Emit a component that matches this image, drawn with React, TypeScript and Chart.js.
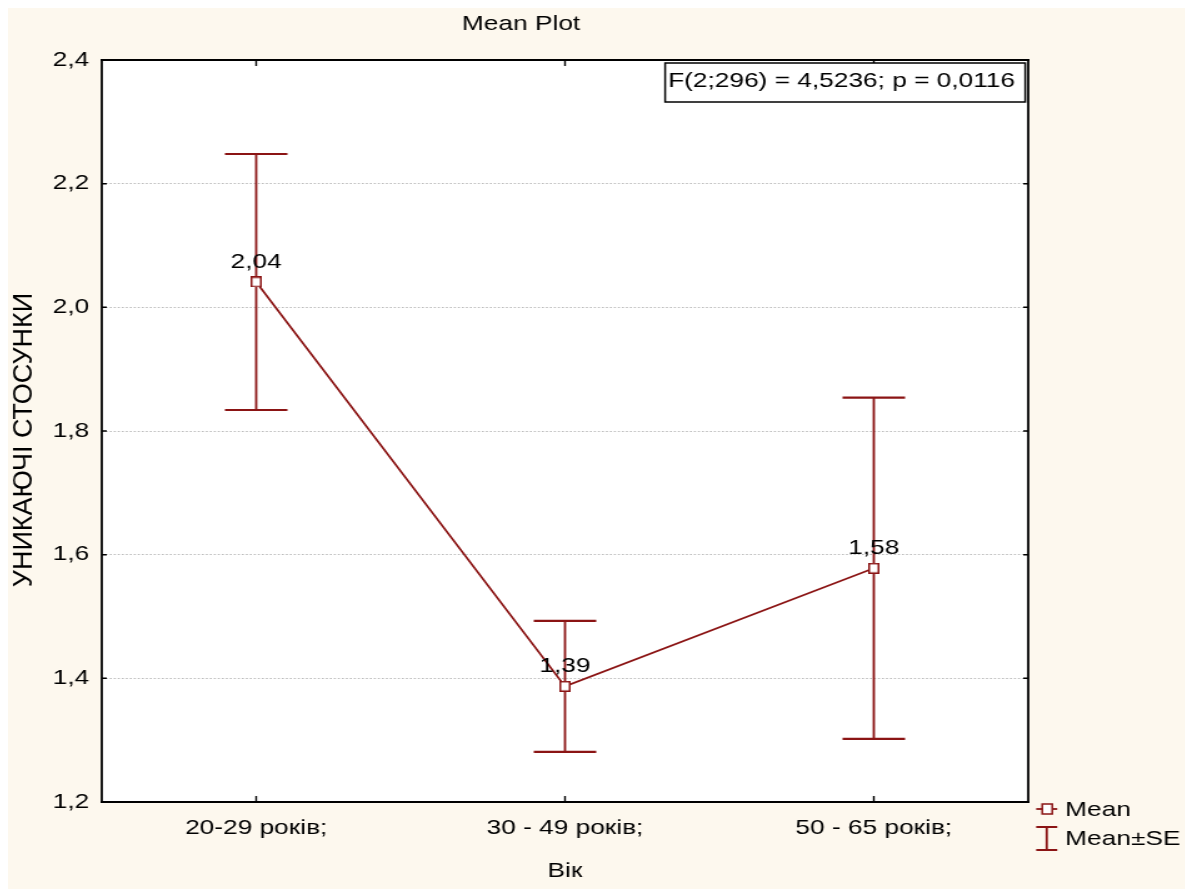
import { useEffect, useRef } from 'react';
import { Chart, registerables } from 'chart.js';

Chart.register(...registerables);

// ---- data ----
const categories = ['20-29 років;', '30 - 49 років;', '50 - 65 років;'];
const means = [2.041, 1.387, 1.578];
const standardErrors = [0.207, 0.106, 0.276];
const yMin = 1.2;
const yMax = 2.4;
const yStep = 0.2;
const chartTitle = 'Mean Plot';
const xAxisTitle = 'Вік';
const yAxisTitle = 'УНИКАЮЧІ СТОСУНКИ';
const statText = 'F(2;296) = 4,5236; p = 0,0116';
const legendLabels = ['Mean', 'Mean±SE'];

// ---- layout / style ----
const SX = 1.25; // horizontal stretch of the canvas on the page
const CSS_W = 1179;
const CSS_H = 881;
const PX_W = Math.round(CSS_W / SX);
const FONT = 'Arial, "Liberation Sans", sans-serif';
const RED = '#8b1414';
const BG = '#fdf8ee';
const px = (pageX: number) => (pageX - 8) / SX;
const py = (pageY: number) => pageY - 8;
const fmt = (v: number, d: number) => v.toFixed(d).replace('.', ',');

function makeMarker(): HTMLCanvasElement {
  const c = document.createElement('canvas');
  c.width = 9;
  c.height = 11;
  const g = c.getContext('2d')!;
  g.fillStyle = '#ffffff';
  g.fillRect(0, 0, 9, 11);
  g.strokeStyle = RED;
  g.lineWidth = 1.5;
  g.strokeRect(0.75, 0.75, 7.5, 9.5);
  return c;
}

const meanPlotPlugin = {
  id: 'meanPlot',
  beforeDraw(chart: any) {
    const { ctx, chartArea: a, width, height } = chart;
    ctx.save();
    ctx.fillStyle = BG;
    ctx.fillRect(0, 0, width, height);
    ctx.fillStyle = '#ffffff';
    ctx.fillRect(a.left, a.top, a.right - a.left, a.bottom - a.top);
    ctx.restore();
  },
  beforeDatasetsDraw(chart: any) {
    const { ctx } = chart;
    const xs = chart.scales.x;
    const ys = chart.scales.y;
    ctx.save();
    ctx.strokeStyle = RED;
    means.forEach((m, i) => {
      const x = xs.getPixelForValue(i);
      const yt = ys.getPixelForValue(m + standardErrors[i]);
      const yb = ys.getPixelForValue(m - standardErrors[i]);
      ctx.lineWidth = 1.8;
      ctx.beginPath();
      ctx.moveTo(x, yt);
      ctx.lineTo(x, yb);
      ctx.stroke();
      ctx.lineWidth = 2.2;
      ctx.beginPath();
      ctx.moveTo(x - 25, yt);
      ctx.lineTo(x + 25, yt);
      ctx.moveTo(x - 25, yb);
      ctx.lineTo(x + 25, yb);
      ctx.stroke();
    });
    ctx.restore();
  },
  afterDatasetsDraw(chart: any) {
    const { ctx } = chart;
    const meta = chart.getDatasetMeta(0);
    ctx.save();
    ctx.font = `21px ${FONT}`;
    ctx.fillStyle = '#000000';
    ctx.textAlign = 'center';
    ctx.textBaseline = 'middle';
    meta.data.forEach((pt: any, i: number) => {
      ctx.fillText(fmt(means[i], 2), pt.x, pt.y - 20);
    });
    ctx.restore();
  },
  afterDraw(chart: any) {
    const { ctx, chartArea: a } = chart;
    const xs = chart.scales.x;
    const ys = chart.scales.y;
    ctx.save();
    // plot frame
    ctx.strokeStyle = '#000000';
    ctx.lineWidth = 2.2;
    ctx.beginPath();
    ctx.moveTo(a.left - 1, a.top);
    ctx.lineTo(a.right + 1, a.top);
    ctx.moveTo(a.left - 1, a.bottom);
    ctx.lineTo(a.right + 1, a.bottom);
    ctx.stroke();
    ctx.lineWidth = 1.8;
    ctx.beginPath();
    ctx.moveTo(a.left, a.top);
    ctx.lineTo(a.left, a.bottom);
    ctx.moveTo(a.right, a.top);
    ctx.lineTo(a.right, a.bottom);
    ctx.stroke();
    // inward ticks
    ctx.lineWidth = 1.5;
    ctx.beginPath();
    ys.ticks.forEach((_t: any, i: number) => {
      const y = ys.getPixelForTick(i);
      ctx.moveTo(a.left, y);
      ctx.lineTo(a.left + 4, y);
      ctx.moveTo(a.right - 4, y);
      ctx.lineTo(a.right, y);
    });
    ctx.stroke();
    ctx.lineWidth = 1.4;
    ctx.beginPath();
    categories.forEach((_c, i) => {
      const x = xs.getPixelForValue(i);
      ctx.moveTo(x, a.top);
      ctx.lineTo(x, a.top + 6);
      ctx.moveTo(x, a.bottom - 6);
      ctx.lineTo(x, a.bottom);
    });
    ctx.stroke();

    // statistics box
    const bx0 = px(665);
    const bx1 = px(1025);
    const by0 = py(63);
    const by1 = py(102);
    ctx.fillStyle = '#ffffff';
    ctx.fillRect(bx0, by0, bx1 - bx0, by1 - by0);
    ctx.strokeStyle = '#000000';
    ctx.lineWidth = 1.5;
    ctx.strokeRect(bx0, by0, bx1 - bx0, by1 - by0);

    ctx.fillStyle = '#000000';
    ctx.font = `21px ${FONT}`;
    ctx.textBaseline = 'middle';
    ctx.textAlign = 'left';
    ctx.fillText(statText, px(668), py(81));

    // title
    ctx.textAlign = 'center';
    ctx.fillText(chartTitle, px(521), py(24));
    // x axis title
    ctx.fillText(xAxisTitle, (a.left + a.right) / 2, py(871));

    // legend
    ctx.textAlign = 'left';
    ctx.fillText(legendLabels[0], px(1065), py(810));
    ctx.fillText(legendLabels[1], px(1065), py(839));
    ctx.strokeStyle = RED;
    ctx.lineWidth = 1.8;
    ctx.beginPath();
    ctx.moveTo(px(1036), py(809));
    ctx.lineTo(px(1057), py(809));
    ctx.stroke();
    ctx.fillStyle = '#ffffff';
    ctx.fillRect(px(1042), py(804), px(1052) - px(1042), 10);
    ctx.lineWidth = 1.5;
    ctx.strokeRect(px(1042), py(804), px(1052) - px(1042), 10);
    ctx.lineWidth = 1.8;
    ctx.beginPath();
    ctx.moveTo(px(1046.5), py(827));
    ctx.lineTo(px(1046.5), py(850));
    ctx.moveTo(px(1036), py(827));
    ctx.lineTo(px(1057), py(827));
    ctx.moveTo(px(1036), py(850));
    ctx.lineTo(px(1057), py(850));
    ctx.stroke();

    // y axis title (isotropic on page)
    ctx.fillStyle = '#000000';
    ctx.translate(px(24), py(440));
    ctx.scale(1 / SX, 1);
    ctx.rotate(-Math.PI / 2);
    ctx.font = `27px ${FONT}`;
    ctx.textAlign = 'center';
    ctx.textBaseline = 'middle';
    ctx.fillText(yAxisTitle, 0, 0);
    ctx.restore();
  },
};

export default function App() {
  const canvasRef = useRef<HTMLCanvasElement>(null);

  useEffect(() => {
    const canvas = canvasRef.current;
    if (!canvas) return;
    document.documentElement.style.overflow = 'hidden';
    const marker = makeMarker();
    const chart = new Chart(canvas, {
      type: 'line',
      data: {
        labels: categories,
        datasets: [
          {
            label: legendLabels[0],
            data: means,
            borderColor: RED,
            borderWidth: 1.7,
            pointStyle: marker as any,
            pointRadius: 5,
            pointHoverRadius: 5,
            fill: false,
            tension: 0,
          },
        ],
      },
      options: {
        responsive: false,
        devicePixelRatio: 1,
        animation: false,
        events: [],
        layout: { padding: { top: 52, right: 127, left: 0, bottom: 0 } },
        plugins: {
          legend: { display: false },
          title: { display: false },
          tooltip: { enabled: false },
        },
        scales: {
          x: {
            type: 'category',
            offset: true,
            grid: { display: false, drawTicks: false },
            border: { display: false },
            ticks: {
              color: '#000000',
              font: { family: FONT, size: 21 },
              padding: 14,
              maxRotation: 0,
              autoSkip: false,
            },
            afterFit: (s: any) => {
              s.height = 87;
            },
          },
          y: {
            min: yMin,
            max: yMax,
            grid: { color: '#bdbdbd', lineWidth: 1, drawTicks: false },
            border: { display: false, dash: [1.6, 1.6] },
            ticks: {
              stepSize: yStep,
              color: '#000000',
              font: { family: FONT, size: 21 },
              padding: 10,
              callback: (v: any) => fmt(Number(v), 1),
            },
            afterFit: (s: any) => {
              s.width = 75;
            },
          },
        },
      },
      plugins: [meanPlotPlugin],
    });
    return () => chart.destroy();
  }, []);

  return (
    <canvas
      ref={canvasRef}
      width={PX_W}
      height={CSS_H}
      style={{ display: 'block', width: `${CSS_W}px`, height: `${CSS_H}px` }}
    />
  );
}
